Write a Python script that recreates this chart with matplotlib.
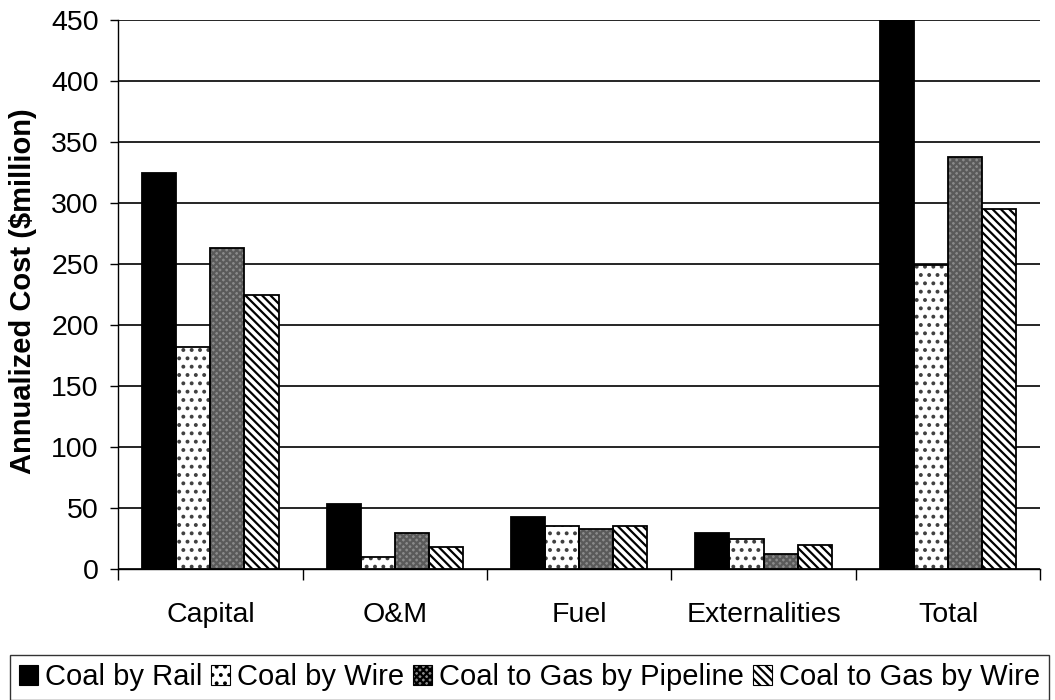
import numpy as np
import matplotlib
matplotlib.use('Agg')
import matplotlib.pyplot as plt
from matplotlib.patches import Patch

plt.rcParams['font.family'] = ['Liberation Sans', 'DejaVu Sans']
plt.rcParams['hatch.linewidth'] = 1.6

# ── Datos ─────────────────────────────────────────────────────────────────────
categorias = ['Capital', 'O&M', 'Fuel', 'Externalities', 'Total']
coal_rail = [325, 53, 43, 30, 451]
coal_wire = [182, 10, 35, 25, 249]
gas_pipeline = [263, 30, 33, 12, 338]
gas_wire = [225, 18, 35, 20, 295]

series = ['Coal by Rail', 'Coal by Wire', 'Coal to Gas by Pipeline',
          'Coal to Gas by Wire']

# estilo de cada serie: (relleno, trama, color de trama)
estilos = [
    ('black', '', 'black'),
    ('white', '..', '#404040'),
    ('#8a8a8a', 'xxxxx', '#5a5a5a'),
    ('white', '\\\\\\\\', 'black'),
]

FS = 20.5

fig = plt.figure(figsize=(10.55, 7.0), dpi=100)
ax = fig.add_axes([0.112, 0.187, 0.874, 0.784])

x = np.arange(len(categorias))
w = 0.185
valores = [coal_rail, coal_wire, gas_pipeline, gas_wire]

for i, (vals, (fc, hatch, hc)) in enumerate(zip(valores, estilos)):
    pos = x + (i - 1.5) * w
    ax.bar(pos, vals, w, color=fc, hatch=hatch, edgecolor=hc,
           linewidth=0, zorder=3)
    ax.bar(pos, vals, w, fill=False, edgecolor='black', linewidth=1.3,
           zorder=4)

ax.set_xlim(-0.5, len(categorias) - 0.5)
ax.set_ylim(0, 450)
ax.set_yticks(np.arange(0, 451, 50))
ax.yaxis.grid(True, color='black', linewidth=1.2, zorder=0)
ax.set_axisbelow(True)

ax.set_xticks(x)
ax.set_xticklabels(categorias, fontsize=FS)
ax.tick_params(axis='x', length=0, pad=24)
ax.set_xticks(np.arange(-0.5, len(categorias) + 0.5, 1), minor=True)
ax.tick_params(axis='x', which='minor', length=8, width=1, color='black')
ax.tick_params(axis='y', labelsize=FS, length=6, width=1, color='black',
               pad=8)

for lado in ['top', 'right']:
    ax.spines[lado].set_visible(False)
ax.spines['left'].set_color('black')
ax.spines['bottom'].set_color('black')
ax.spines['left'].set_linewidth(1.0)
ax.spines['bottom'].set_linewidth(1.0)

fig.text(0.022, 0.584, 'Annualized Cost ($million)', rotation=90,
         ha='center', va='center', fontsize=21, fontweight='bold')

handles = []
for nombre, (fc, hatch, hc) in zip(series, estilos):
    handles.append(Patch(facecolor=fc, hatch=hatch, edgecolor='black',
                         linewidth=0.8, label=nombre))

leg = fig.legend(handles=handles, loc='lower center',
                 bbox_to_anchor=(0.502, 0.0),
                 ncol=4, fontsize=21, frameon=True, fancybox=False,
                 handlelength=0.65, handleheight=0.65, handletextpad=0.25,
                 columnspacing=0.3, borderpad=0.3, borderaxespad=0.0)
leg.get_frame().set_edgecolor('black')
leg.get_frame().set_linewidth(1.0)

plt.savefig('out.png', dpi=100)
plt.close()
